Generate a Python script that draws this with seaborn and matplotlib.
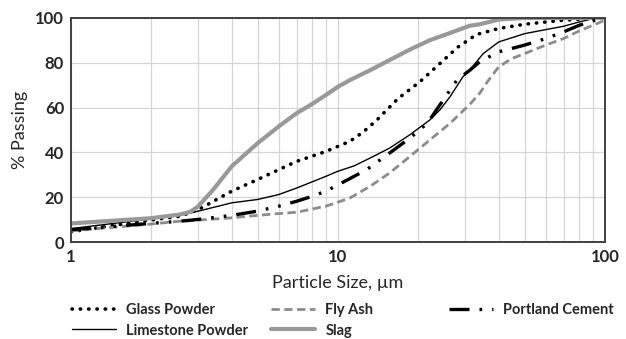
import numpy as np
import pandas as pd
import matplotlib
matplotlib.use("Agg")
import matplotlib.pyplot as plt
import seaborn as sns
from matplotlib.ticker import LogLocator, NullFormatter, FixedLocator, FixedFormatter

# Particle size distributions
glass_size = [1, 1.98, 2.56, 3, 4, 5, 6, 7, 9, 10, 11.1, 12.4, 14, 16.8, 20.3, 24.1, 28.2, 33,
              40, 50, 60, 70, 90, 100]
glass_pass = [4.6, 9.8, 11.5, 14.5, 22.7, 27.9, 32.3, 36, 40.4, 42.7, 45, 49, 54.5, 64.1, 71.6,
              79.7, 87.1, 92.6, 95.3, 97.2, 98.2, 99, 99.7, 100]

lime_size = [1, 1.98, 2.56, 3, 4, 5, 6, 7, 9, 10, 11.5, 13.2, 15.6, 18.6, 22.1, 24.1, 26.3, 29.4,
             31.1, 35, 40, 50, 60, 70, 80, 90, 100]
lime_pass = [6, 10.3, 12, 13.8, 17.5, 19, 21.2, 24.1, 29.3, 31.6, 34, 37.5, 41.9, 47.9, 54.5, 59,
             64.9, 73.8, 76.7, 84.1, 89.3, 93, 94.8, 96.3, 98.2, 99.7, 100]

fly_size = [1, 1.98, 2.56, 3, 4, 5, 6, 7, 9, 10, 11.1, 13.2, 15.6, 18.6, 22.1, 26.3, 31.2, 34, 36,
            40, 44.8, 50, 60, 70, 80, 90, 100]
fly_pass = [5, 8, 9.3, 9.8, 10.8, 11.9, 12.7, 13.3, 16, 17.8, 19.7, 24.9, 30.8, 38.2, 45.6, 53,
            61.5, 66.5, 71, 78.2, 81.9, 84.1, 87.9, 90.8, 94.2, 96.7, 99]

slag_size = [1, 1.98, 2.56, 2.8, 3, 3.41, 4, 5, 6, 7, 8, 9, 10, 11.1, 13.2, 15.6, 18.6, 22.1, 26.3,
             31.1, 34, 40, 50, 100]
slag_pass = [8.3, 10.6, 12.3, 13.5, 16, 23.4, 33.8, 44.1, 51.6, 57.5, 61.6, 65.6, 69.3, 72.3, 76.7,
             81.2, 85.9, 90.1, 93.3, 96.5, 97.2, 99.3, 100, 100]

pc_size = [1, 1.98, 2.56, 3, 4, 5, 6, 7, 8, 9, 10, 12.8, 15.6, 18.6, 21.6, 24.8, 27.9, 31.2, 34,
           40, 44.8, 50, 60, 70, 80, 90, 100]
pc_pass = [5.5, 8.3, 9.3, 10.1, 11.9, 13.8, 16, 18.2, 20.4, 22.7, 25.5, 32.3, 39.7, 46.4, 53, 63.4,
           72.3, 76.7, 80.5, 84.9, 86.4, 87.9, 90.8, 93.8, 96.7, 98.7, 100]

sns.set_style("white")
plt.rcParams['font.family'] = ['Lato', 'DejaVu Sans']

fig = plt.figure(figsize=(6.26, 3.39), dpi=100)
ax = fig.add_axes([0.1134, 0.286, 0.853, 0.661])

series = [
    ("Glass Powder", glass_size, glass_pass, "black", 2.6, (0, (0.1, 2.2))),
    ("Limestone Powder", lime_size, lime_pass, "black", 1.0, None),
    ("Fly Ash", fly_size, fly_pass, "#8c8c8c", 2.0, (0, (3, 1.6))),
    ("Slag", slag_size, slag_pass, "#999999", 3.0, None),
    ("Portland Cement", pc_size, pc_pass, "black", 2.4, (0, (6, 3, 0.8, 3, 0.8, 3))),
]

for name, xs, ys, col, lw, dash in series:
    df = pd.DataFrame({"size": xs, "passing": ys})
    sns.lineplot(data=df, x="size", y="passing", ax=ax, color=col, lw=lw, label=name)
    line = ax.get_lines()[-1]
    if dash is not None:
        line.set_linestyle(dash)
    if name == "Glass Powder":
        line.set_dash_capstyle("round")

ax.set_xscale("log")
ax.set_xlim(1, 100)
ax.set_ylim(0, 100)
ax.xaxis.set_major_locator(FixedLocator([1, 10, 100]))
ax.xaxis.set_major_formatter(FixedFormatter(["1", "10", "100"]))
ax.xaxis.set_minor_locator(LogLocator(base=10, subs=np.arange(2, 10)))
ax.xaxis.set_minor_formatter(NullFormatter())
ax.set_yticks([0, 20, 40, 60, 80, 100])

ax.grid(True, which="both", axis="x", color="#d6d6d6", lw=0.9)
ax.grid(True, which="major", axis="y", color="#d6d6d6", lw=0.9)
ax.tick_params(which="both", length=0, labelsize=12, pad=5)
for lab in ax.get_xticklabels() + ax.get_yticklabels():
    lab.set_fontweight("bold")
for sp in ax.spines.values():
    sp.set_color("#404040")
    sp.set_linewidth(1.4)

ax.set_xlabel("Particle Size, µm", fontsize=13, labelpad=7)
ax.set_ylabel("% Passing", fontsize=13, labelpad=5)

handles, labels = ax.get_legend_handles_labels()
ax.legend_.remove()
leg_kw = dict(frameon=False, prop={"weight": "bold", "size": 10.5}, handlelength=3.0,
              labelspacing=0.45, handletextpad=0.7, borderaxespad=0, borderpad=0)
fig.legend(handles[:4], labels[:4], ncol=2, loc="upper left",
           bbox_to_anchor=(72 / 626, 1 - 303 / 339), columnspacing=1.6, **leg_kw)
fig.legend(handles[4:], labels[4:], ncol=1, loc="upper left",
           bbox_to_anchor=(449 / 626, 1 - 303 / 339), **leg_kw)

fig.savefig("out.png", dpi=100)
